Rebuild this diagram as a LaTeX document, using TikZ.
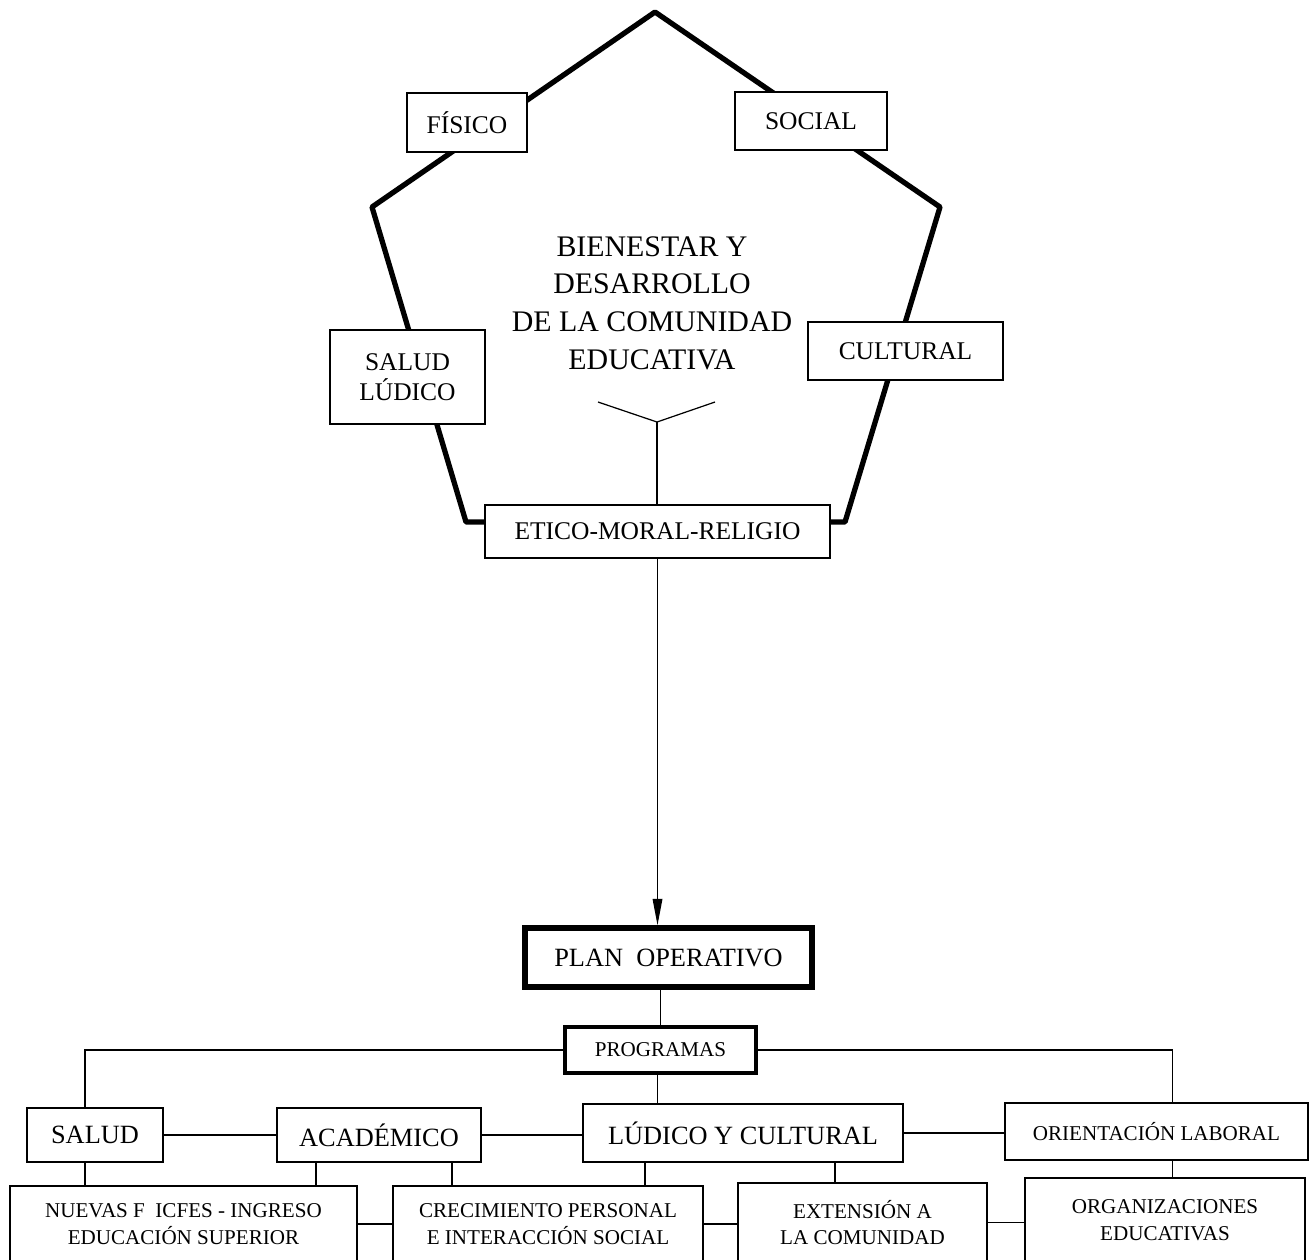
\documentclass[tikz,border=0pt]{standalone}
\usepackage{fontspec}
\setmainfont{Liberation Serif}
\usetikzlibrary{arrows.meta, positioning, calc, backgrounds}
\tikzset{
  %% Plain box with a label
  pbox/.style={
    rectangle, draw=black, fill=white,
    line width=0.8pt, inner sep=0pt,
    align=center, font=\fontsize{#1}{15.3}\selectfont
  },
  pbox/.default=14.5,
  %% Heavy framed box
  hbox/.style={
    pbox=#1, line width=3.2pt
  },
  %% Thick outline of the pentagon
  hull/.style={draw=black, line width=3pt, line join=round},
  %% Thin connector
  link/.style={draw=black, line width=0.7pt},
  %% Arrow
  arr/.style={-{Triangle[length=15pt,width=5.5pt]},
              draw=black, line width=0.7pt},
}
\begin{document}
\begin{tikzpicture}[x=0.02cm, y=-0.02cm]
  \useasboundingbox (0,0) rectangle (1310,1259);

  % pentagon corners
  \coordinate (apex) at (655,12);
  \coordinate (lup)  at (372,207);
  \coordinate (rup)  at (940,207);
  \coordinate (hl)   at (466,522);
  \coordinate (hr)   at (845,522);

  \node[pbox, minimum width=2.4cm, minimum height=1.18cm] (fisico)
       at (467,122.5) {FÍSICO};
  \node[pbox, minimum width=3.04cm, minimum height=1.16cm] (social)
       at (811,121) {SOCIAL};
  \node[pbox, minimum width=3.1cm, minimum height=1.88cm] (saludl)
       at (407.5,377) {SALUD\\[2pt]LÚDICO};
  \node[pbox, minimum width=3.9cm, minimum height=1.16cm] (cultural)
       at (905.5,351) {CULTURAL};
  \node[pbox, minimum width=6.9cm, minimum height=1.06cm] (etico)
       at (657.5,531.5) {ETICO-MORAL-RELIGIO};

  \node[align=center, font=\fontsize{17}{21.5}\selectfont] (title)
       at (652,303) {BIENESTAR Y\\DESARROLLO\\DE LA COMUNIDAD\\EDUCATIVA};

  \begin{scope}[on background layer]
    \draw[hull] (etico.west |- hl) -- (hl) -- (lup) -- (apex)
                -- (rup) -- (hr) -- (etico.east |- hr);
  \end{scope}

  % fork under the title
  \coordinate (fork)  at (657,422);
  \coordinate (forkl) at (598,402);
  \coordinate (forkr) at (715,402);
  \draw[link] (forkl) -- (fork) -- (forkr);
  \draw[link] (fork) -- (fork |- etico.north);

  \node[hbox=15, minimum width=5.74cm, minimum height=1.18cm] (plan)
       at (668.5,957.5) {PLAN\ \ OPERATIVO};
  \node[hbox=12, line width=2.3pt, minimum width=3.82cm, minimum height=0.92cm] (prog)
       at (660.5,1050) {PROGRAMAS};

  \node[pbox=15, minimum width=2.72cm, minimum height=1.08cm] (salud)
       at (95,1135) {SALUD};
  \node[pbox=15, minimum width=4.08cm, minimum height=1.08cm] (acad)
       at (379,1135) {ACADÉMICO};
  \node[pbox=15, minimum width=6.4cm, minimum height=1.16cm] (ludico)
       at (743,1133) {LÚDICO Y CULTURAL};
  \node[pbox=12, minimum width=6.06cm, minimum height=1.14cm] (orient)
       at (1156.5,1131.5) {ORIENTACIÓN LABORAL};

  \node[pbox=12, minimum width=6.94cm, minimum height=1.52cm] (nuevas)
       at (183.5,1224) {NUEVAS F\ \ ICFES - INGRESO\\EDUCACIÓN SUPERIOR};
  \node[pbox=12, minimum width=6.2cm, minimum height=1.52cm] (crec)
       at (548,1224) {CRECIMIENTO PERSONAL\\E INTERACCIÓN SOCIAL};
  \node[pbox=12, minimum width=4.98cm, minimum height=1.58cm] (ext)
       at (862.5,1222.5) {EXTENSIÓN A\\LA COMUNIDAD};
  \node[pbox=12, minimum width=5.6cm, minimum height=1.68cm] (org)
       at (1165,1220) {ORGANIZACIONES\\EDUCATIVAS};

  \draw[arr] (etico.south) -- (etico.south |- plan.north);
  \draw[link] (prog.north |- plan.south) -- (prog.north);
  \draw[link] (prog.west) -| ([xshift=-10*0.02cm]salud.north);
  \draw[link] (prog.east) -| ([xshift=16*0.02cm]orient.north);
  \draw[link] ([xshift=-3*0.02cm]prog.south) -- ([xshift=-3*0.02cm]prog.south |- ludico.north);

  \foreach \a/\b in {salud/acad, acad/ludico, ludico/orient,
                     nuevas/crec, crec/ext, ext/org}
    \draw[link] (\a.east) -- (\a.east -| \b.west);

  \foreach \n/\dx/\m in {salud/-10/nuevas, acad/-63/nuevas, acad/73/crec,
                         ludico/-98/crec, ludico/92/ext, orient/16/org}
    \draw[link] ([xshift=\dx*0.02cm]\n.south)
                -- ([xshift=\dx*0.02cm]\n.south |- \m.north);

\end{tikzpicture}
\end{document}
